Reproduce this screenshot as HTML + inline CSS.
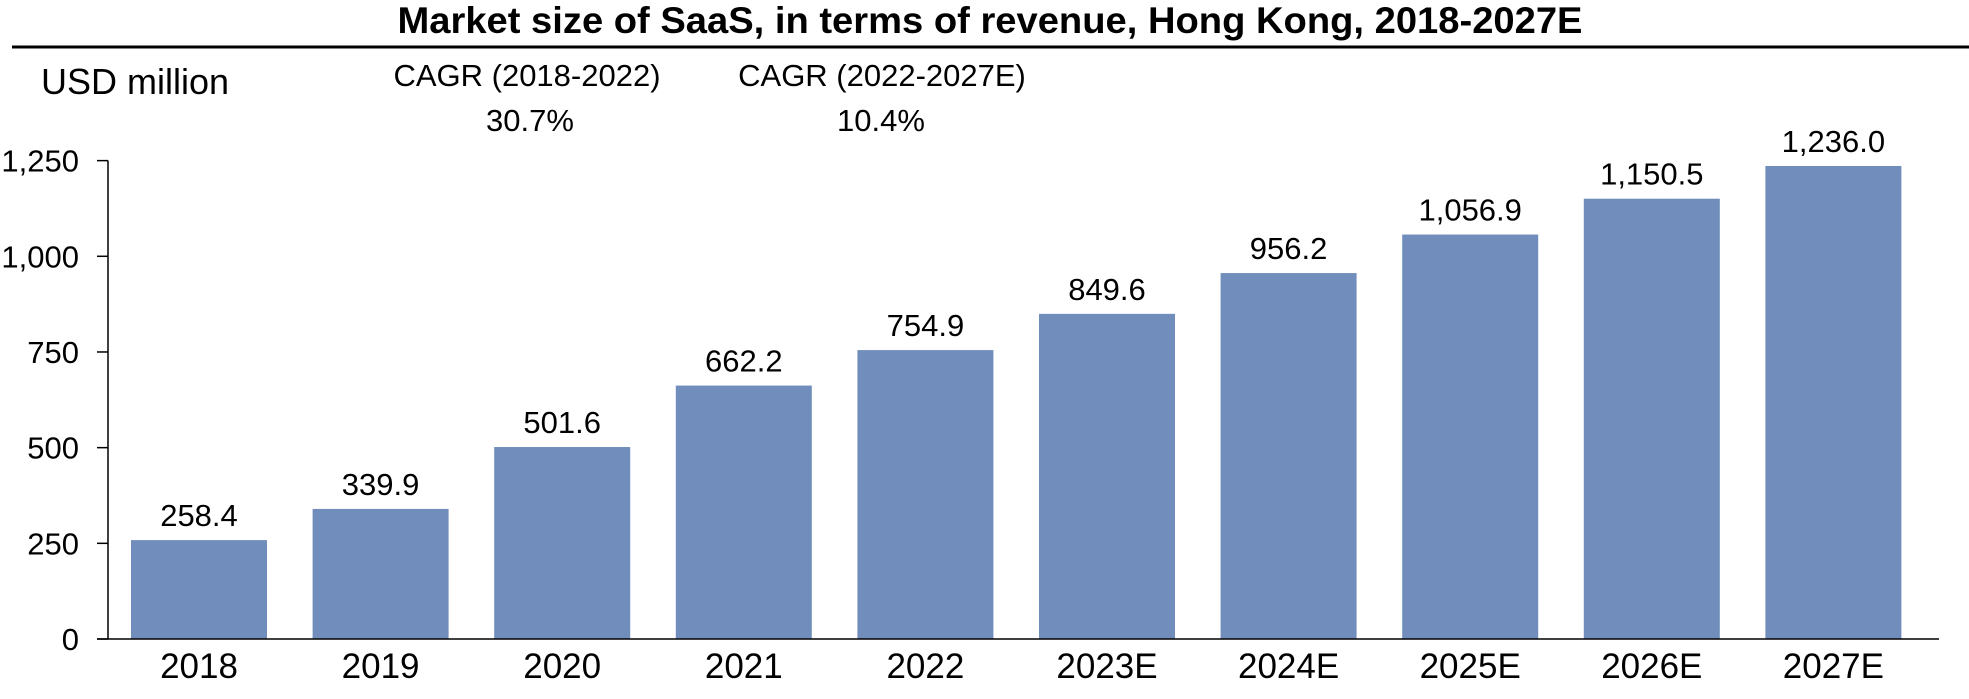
<!DOCTYPE html>
<html><head><meta charset="utf-8"><style>
html,body{margin:0;padding:0;background:#fff;}
svg{display:block;font-family:"Liberation Sans",Arial,sans-serif;}
</style></head><body>
<svg id="chart" width="1969" height="699" viewBox="0 0 1969 699">
<text x="990" y="33" text-anchor="middle" font-size="37" font-weight="bold" textLength="1185" lengthAdjust="spacingAndGlyphs">Market size of SaaS, in terms of revenue, Hong Kong, 2018-2027E</text>
<line x1="12" y1="47" x2="1969" y2="47" stroke="#000" stroke-width="3"/>
<text x="41" y="94" font-size="36">USD million</text>
<text x="527" y="86" text-anchor="middle" font-size="31">CAGR (2018-2022)</text>
<text x="530" y="131" text-anchor="middle" font-size="31">30.7%</text>
<text x="882" y="86" text-anchor="middle" font-size="31">CAGR (2022-2027E)</text>
<text x="881" y="131" text-anchor="middle" font-size="31">10.4%</text>
<g id="plot"></g>
</svg>
<script>
const categories = ["2018","2019","2020","2021","2022","2023E","2024E","2025E","2026E","2027E"];
const values = [258.4,339.9,501.6,662.2,754.9,849.6,956.2,1056.9,1150.5,1236.0];
const valueLabels = ["258.4","339.9","501.6","662.2","754.9","849.6","956.2","1,056.9","1,150.5","1,236.0"];
const yTicks = [0,250,500,750,1000,1250];
const yTickLabels = ["0","250","500","750","1,000","1,250"];

const NS="http://www.w3.org/2000/svg";
const g=document.getElementById('plot');
const y0=639, pxPerUnit=0.3827, axisX=108, firstBar=131, step=181.6, barW=136;
function yScale(v){return y0-v*pxPerUnit;}
function xScale(i){return firstBar+i*step;}
function mk(tag,attrs){const e=document.createElementNS(NS,tag);for(const k in attrs)e.setAttribute(k,attrs[k]);g.appendChild(e);return e;}

categories.forEach((c,i)=>{
  const r=mk('rect',{x:xScale(i),y:yScale(values[i]),width:barW,height:y0-yScale(values[i]),fill:'#718dbc'});
  
  
  const t=mk('text',{x:xScale(i)+barW/2,y:yScale(values[i])-14,'text-anchor':'middle','font-size':'31'});
  t.textContent=valueLabels[i];
  
  
  const xl=mk('text',{x:xScale(i)+barW/2,y:678,'text-anchor':'middle','font-size':'35'});
  xl.textContent=c;
  
  
});

const ya=mk('line',{x1:axisX,y1:yScale(1250),x2:axisX,y2:y0,stroke:'#000','stroke-width':1.5});


const xa=mk('line',{x1:97,y1:y0,x2:1939,y2:y0,stroke:'#000','stroke-width':1.5});



yTicks.forEach((v,i)=>{
  const tk=mk('line',{x1:97,y1:yScale(v),x2:axisX,y2:yScale(v),stroke:'#000','stroke-width':1.5});
  
  
  const tl=mk('text',{x:79,y:yScale(v)+11,'text-anchor':'end','font-size':'31'});
  tl.textContent=yTickLabels[i];
  
  
});
</script>
</body></html>
